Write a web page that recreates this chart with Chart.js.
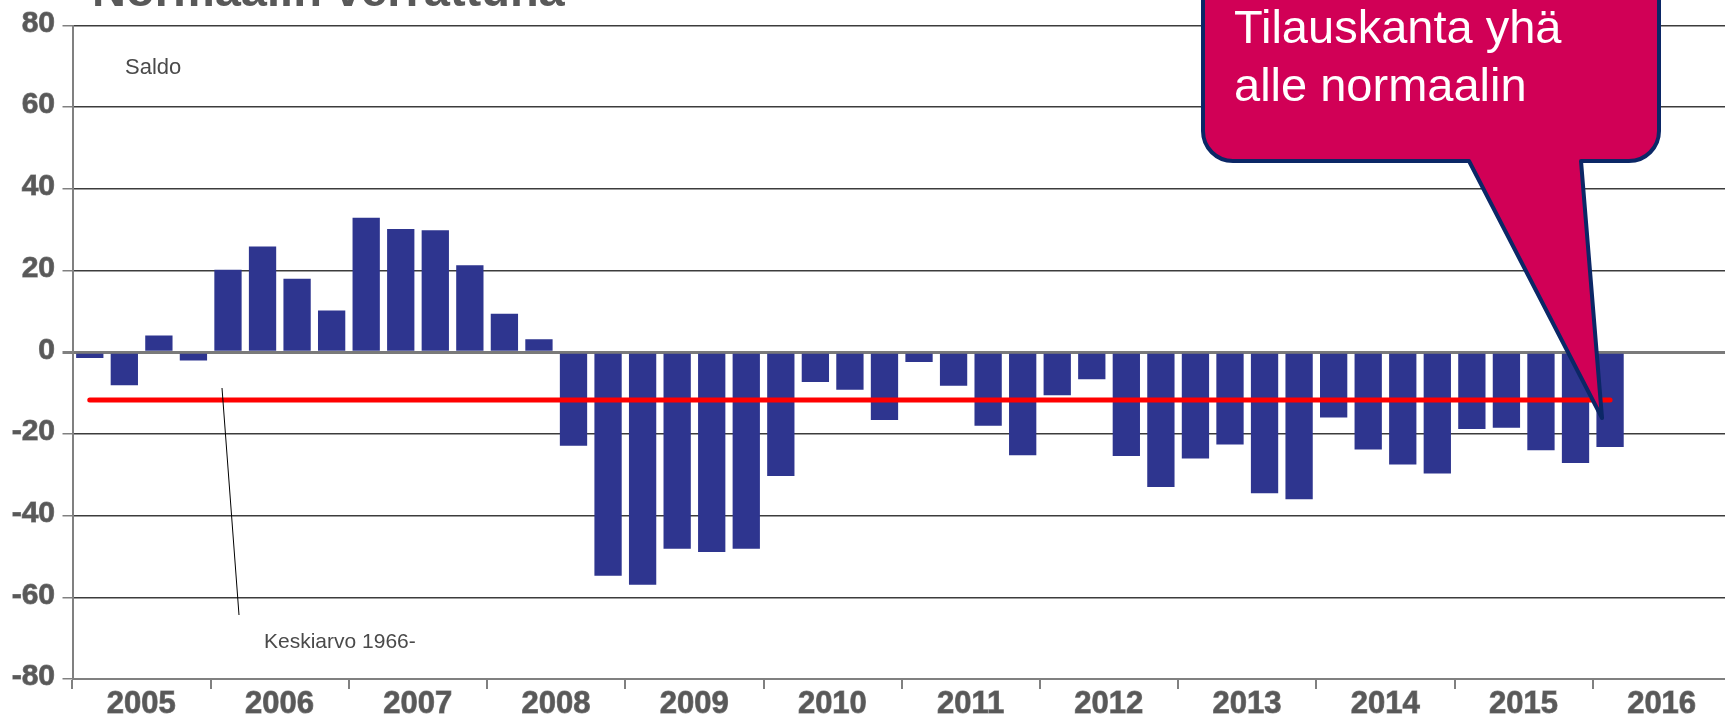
<!DOCTYPE html>
<html>
<head>
    <title>Tilauskanta normaaliin verrattuna</title>
    <script src="https://cdn.jsdelivr.net/npm/chart.js"></script>
    <style>
        html, body {
            margin: 0;
            padding: 0;
            overflow: hidden;
            background: #ffffff;
        }
        .chart-container {
            position: absolute;
            left: 0;
            top: 0;
            width: 1740px;
            height: 720px;
        }
    </style>
</head>
<body>
<div class="chart-container">
    <canvas id="saldoChart" width="1740" height="720"></canvas>
</div>

<script>
    // vuodet ja neljännekset
    const years = ['2005', '2006', '2007', '2008', '2009', '2010', '2011', '2012', '2013', '2014', '2015', '2016'];
    const quarters = ['Q1', 'Q2', 'Q3', 'Q4'];

    // saldoluvut 2005 Q1 - 2016 Q1
    const saldo = [
        -1.4, -8.1, 4.1, -2.0,
        20.2, 25.9, 18.0, 10.2,
        32.9, 30.2, 29.9, 21.3,
        9.4, 3.2, -22.9, -54.7,
        -56.9, -48.1, -48.9, -48.1,
        -30.3, -7.3, -9.2, -16.6,
        -2.4, -8.2, -18.0, -25.2,
        -10.5, -6.6, -25.4, -33.0,
        -26.0, -22.6, -34.5, -36.0,
        -16.0, -23.8, -27.5, -29.7,
        -18.8, -18.5, -24.0, -27.1,
        -23.2
    ];

    // keskiarvo 1966-
    const avgValue = -11.7;
    const avgStart = '2005 Q1';
    const avgEnd = '2016 Q1';

    const yTicks = [-80, -60, -40, -20, 0, 20, 40, 60, 80];

    const barColor = '#2E358F';
    const avgColor = '#FF0000';
    const labelColor = '#595959';
    const axisColor = '#808080';

    const labels = [];
    years.forEach(y => quarters.forEach(q => labels.push(y + ' ' + q)));

    // otsikko, tekstit ja puhekupla
    const extras = {
        id: 'extras',
        afterDatasetsDraw(chart) {
            const ctx = chart.ctx;
            ctx.save();
            // otsikko (yläosa leikkautuu)
            ctx.fillStyle = labelColor;
            ctx.font = 'bold 47px "Liberation Sans", Arial, sans-serif';
            ctx.textBaseline = 'alphabetic';
            ctx.textAlign = 'left';
            ctx.fillText('Normaalin verrattuna', 92, 6);

            ctx.fillStyle = '#4a4a4a';
            ctx.font = '22px "Liberation Sans", Arial, sans-serif';
            ctx.textBaseline = 'middle';
            ctx.fillText('Saldo', 125, 68);
            ctx.font = '21px "Liberation Sans", Arial, sans-serif';
            ctx.fillText('Keskiarvo 1966-', 264, 642);

            ctx.strokeStyle = '#000000';
            ctx.lineWidth = 1;
            ctx.beginPath();
            ctx.moveTo(222, 388);
            ctx.lineTo(239, 615);
            ctx.stroke();
            ctx.restore();
        },
        afterDraw(chart) {
            const ctx = chart.ctx;
            const L = 1203, R = 1659, T = -40, B = 161, r = 30;
            ctx.save();
            ctx.beginPath();
            ctx.moveTo(L + r, T);
            ctx.lineTo(R - r, T);
            ctx.arcTo(R, T, R, T + r, r);
            ctx.lineTo(R, B - r);
            ctx.arcTo(R, B, R - r, B, r);
            ctx.lineTo(1581, B);
            ctx.lineTo(1602, 418);
            ctx.lineTo(1469, B);
            ctx.lineTo(L + r, B);
            ctx.arcTo(L, B, L, B - r, r);
            ctx.lineTo(L, T + r);
            ctx.arcTo(L, T, L + r, T, r);
            ctx.closePath();
            ctx.fillStyle = '#D10056';
            ctx.fill();
            ctx.strokeStyle = '#0B2766';
            ctx.lineWidth = 4;
            ctx.lineJoin = 'round';
            ctx.stroke();

            ctx.fillStyle = '#ffffff';
            ctx.font = '47px "Liberation Sans", Arial, sans-serif';
            ctx.textBaseline = 'alphabetic';
            ctx.textAlign = 'left';
            ctx.fillText('Tilauskanta yhä', 1234, 43);
            ctx.fillText('alle normaalin', 1234, 101);
            ctx.restore();
        }
    };

    const chart = new Chart(document.getElementById('saldoChart'), {
        type: 'bar',
        data: {
            labels: labels,
            datasets: [
                {
                    label: 'Keskiarvo 1966-',
                    type: 'line',
                    data: [{x: avgStart, y: avgValue}, {x: avgEnd, y: avgValue}],
                    borderColor: avgColor,
                    borderWidth: 5,
                    borderCapStyle: 'round',
                    pointRadius: 0,
                    order: 0
                },
                {
                    label: 'Saldo',
                    data: saldo,
                    backgroundColor: barColor,
                    borderWidth: 0,
                    barPercentage: 0.79,
                    categoryPercentage: 1.0,
                    order: 1
                }
            ]
        },
        options: {
            responsive: false,
            animation: false,
            layout: {
                padding: {top: 25, right: 9, left: 0, bottom: 0}
            },
            plugins: {
                legend: {display: false},
                tooltip: {enabled: false}
            },
            scales: {
                x: {
                    offset: true,
                    afterFit: (scale) => { scale.height = 41; },
                    border: {color: axisColor, width: 2},
                    grid: {
                        offset: true,
                        drawOnChartArea: false,
                        drawTicks: true,
                        tickLength: 10,
                        color: (c) => (c.index % 4 === 0 ? axisColor : 'rgba(0,0,0,0)'),
                        lineWidth: 2
                    },
                    ticks: {
                        autoSkip: false,
                        maxRotation: 0,
                        labelOffset: 17,
                        padding: 0,
                        color: labelColor,
                        textStrokeColor: 'rgba(89,89,89,0.7)',
                        textStrokeWidth: 1,
                        font: {family: '"Liberation Sans", Arial, sans-serif', size: 31, weight: 'bold', lineHeight: 1},
                        callback: function(value, index) {
                            return index % 4 === 1 ? years[Math.floor(index / 4)] : '';
                        }
                    }
                },
                y: {
                    min: yTicks[0],
                    max: yTicks[yTicks.length - 1],
                    afterFit: (scale) => { scale.width = 72.5; },
                    afterBuildTicks: (scale) => { scale.ticks = yTicks.map(v => ({value: v})); },
                    border: {color: axisColor, width: 2},
                    grid: {
                        tickLength: 10,
                        tickColor: axisColor,
                        color: (c) => {
                            if (c.tick && c.tick.value === 0) return '#7a7a7a';
                            if (c.tick && c.tick.value === -80) return axisColor;
                            return '#3c3c3c';
                        },
                        lineWidth: (c) => (c.tick && c.tick.value === 0 ? 3 : 1.5)
                    },
                    ticks: {
                        padding: 7.5,
                        labelOffset: -2,
                        color: labelColor,
                        textStrokeColor: 'rgba(89,89,89,0.7)',
                        textStrokeWidth: 1,
                        font: {family: '"Liberation Sans", Arial, sans-serif', size: 30, weight: 'bold'}
                    }
                }
            }
        },
        plugins: [extras]
    });
</script>
</body>
</html>
